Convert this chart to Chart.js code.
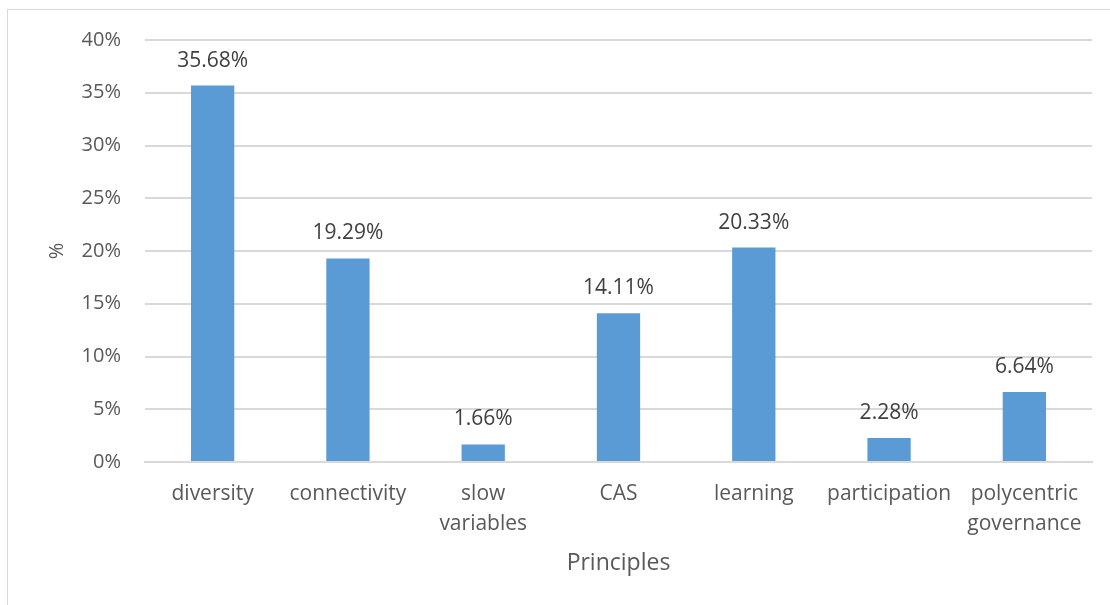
<!DOCTYPE html>
<html>
<head>
<meta charset="utf-8">
<script src="https://cdn.jsdelivr.net/npm/chart.js@4.4.1/dist/chart.umd.min.js"></script>
<style>
  html, body { margin: 0; padding: 0; background: #fff; }
  #wrap { position: relative; width: 1110px; height: 605px; overflow: hidden; }
  #frame { position: absolute; left: 7px; top: 9px; width: 1200px; height: 700px;
           border: 1px solid #d9d9d9; box-sizing: border-box; }
  canvas { position: absolute; left: 0; top: 0; }
</style>
</head>
<body>
<div id="wrap">
  <div id="frame"></div>
  <canvas id="chart" width="1110" height="605"></canvas>
</div>
<script>
// principles and their share (%)
const principios = ["diversity", "connectivity", ["slow", "variables"], "CAS", "learning", "participation", ["polycentric", "governance"]];
const percentuais = [35.68, 19.29, 1.66, 14.11, 20.33, 2.28, 6.64];
const yMax = 40;
const yPasso = 5;

const fonte = "'Open Sans', 'DejaVu Sans', sans-serif";

// escreve o valor em cima de cada barra
const rotulosBarras = {
    id: 'rotulosBarras',
    afterDatasetsDraw(chart) {
        const ctx = chart.ctx;
        const meta = chart.getDatasetMeta(0);
        ctx.save();
        ctx.font = "21px " + fonte;
        ctx.fillStyle = "#404040";
        ctx.textAlign = "center";
        ctx.textBaseline = "middle";
        meta.data.forEach((bar, i) => {
            ctx.fillText(percentuais[i].toFixed(2) + "%", bar.x, bar.y - 25);
        });
        ctx.restore();
    }
};

const ctx = document.getElementById('chart').getContext('2d');
new Chart(ctx, {
    type: 'bar',
    data: {
        labels: principios,
        datasets: [{
            label: "%",
            data: percentuais,
            backgroundColor: "#5B9BD5",
            barPercentage: 0.64,
            categoryPercentage: 0.5
        }]
    },
    options: {
        responsive: false,
        animation: false,
        layout: { padding: { top: 40, right: 18, left: 0, bottom: 0 } },
        plugins: {
            legend: { display: false },
            tooltip: { enabled: false }
        },
        scales: {
            x: {
                grid: { display: false, drawTicks: false },
                border: { color: "#d9d9d9", width: 2 },
                ticks: {
                    color: "#595959",
                    font: { family: fonte, size: 21, lineHeight: 1.43 },
                    padding: 17,
                    maxRotation: 0,
                    autoSkip: false
                },
                title: {
                    display: true,
                    text: "Principles",
                    color: "#595959",
                    font: { family: fonte, size: 23 },
                    padding: { top: 0, bottom: 28 }
                },
                afterFit(scale) { scale.height = 143; }
            },
            y: {
                min: 0,
                max: yMax,
                grid: { color: "#d9d9d9", lineWidth: 2, drawTicks: false },
                border: { display: false },
                ticks: {
                    stepSize: yPasso,
                    color: "#595959",
                    font: { family: fonte, size: 20 },
                    padding: 24,
                    callback: v => v + "%"
                },
                title: {
                    display: true,
                    text: "%",
                    color: "#595959",
                    font: { family: fonte, size: 20 },
                    padding: { top: 45, bottom: 0 }
                },
                afterFit(scale) { scale.width = 145; }
            }
        }
    },
    plugins: [rotulosBarras]
});
</script>
</body>
</html>
